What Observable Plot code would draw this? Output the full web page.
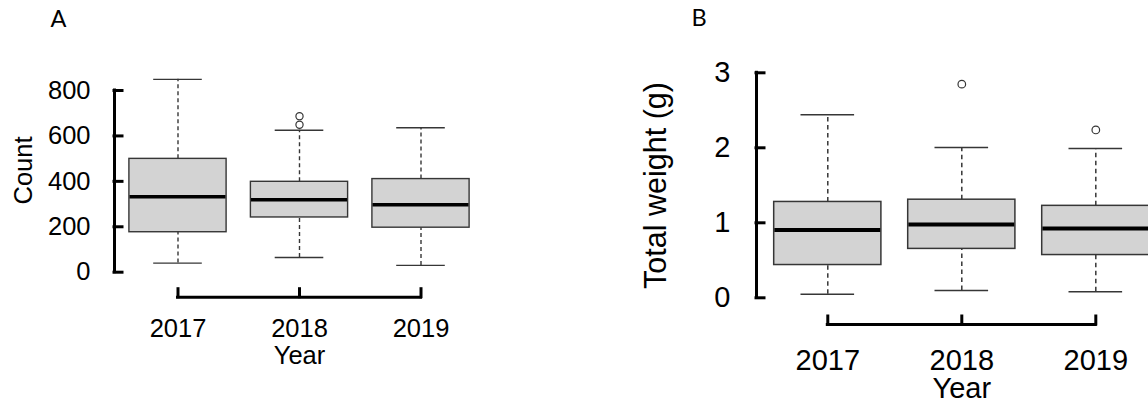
<!DOCTYPE html>
<html>
<head>
<meta charset="utf-8">
<script src="https://cdn.jsdelivr.net/npm/d3@7"></script>
<script src="https://cdn.jsdelivr.net/npm/@observablehq/plot@0.6"></script>
<style>
  html, body { margin: 0; padding: 0; background: #fff; }
  #figure { position: relative; width: 1148px; height: 408px; overflow: hidden; background: #fff; }
  #figure > div { position: absolute; top: 0; }
  #panel-a { left: 0; width: 574px; }
  #panel-b { left: 574px; width: 600px; }
</style>
</head>
<body>
<div id="figure"><div id="panel-a"></div><div id="panel-b"></div></div>
<script>
// Sampling years (categories on the x axis)
const years = [2017, 2018, 2019];

// Panel A — count per sample: five-number summaries and outliers
const countLow = [40, 65, 30];
const countQ1 = [176, 241, 196];
const countMedian = [332, 319, 297];
const countQ3 = [499, 398, 410];
const countHigh = [849, 625, 636];
const countOutlierYears = [2018, 2018];
const countOutlierValues = [649, 687];
const countTicks = [0, 200, 400, 600, 800];

// Panel B — total weight (g): five-number summaries and outliers
const weightLow = [0.048, 0.099, 0.082];
const weightQ1 = [0.437, 0.652, 0.570];
const weightMedian = [0.905, 0.976, 0.923];
const weightQ3 = [1.278, 1.308, 1.226];
const weightHigh = [2.442, 2.005, 1.990];
const weightOutlierYears = [2018, 2019];
const weightOutlierValues = [2.849, 2.238];
const weightTicks = [0, 1, 2, 3];

const FONT = "'Liberation Sans', Arial, Helvetica, sans-serif";
const BOX_FILL = "#d3d3d3";
const BOX_STROKE = "#363636";

function summaryRows(low, q1, median, q3, high) {
  return years.map((year, i) => ({year, low: low[i], q1: q1[i], median: median[i], q3: q3[i], high: high[i]}));
}
function outlierRows(ys, values) {
  return ys.map((year, i) => ({year, value: values[i]}));
}

// One boxplot panel in the base-R style: inward ticks, bracket axes, dashed whiskers
function boxPanel(o) {
  const rows = summaryRows(o.low, o.q1, o.median, o.q3, o.high);
  const points = outlierRows(o.outlierYears, o.outlierValues);
  const half = 0.4;   // half box width, in category units
  const cap = 0.2;    // half whisker-cap width
  const frameBottom = o.height - o.marginBottom;
  const xDomain = [years[0] - o.xPad, years[years.length - 1] + o.xPad];
  const axisStroke = 3;
  return Plot.plot({
    width: o.width,
    height: o.height,
    marginLeft: o.marginLeft,
    marginRight: o.marginRight,
    marginTop: o.marginTop,
    marginBottom: o.marginBottom,
    style: {fontFamily: FONT, fontSize: `${o.fontSize}px`, color: "#000", background: "transparent", maxWidth: "none", overflow: "visible"},
    x: {domain: xDomain},
    y: {domain: [o.ticks[0], o.ticks[o.ticks.length - 1]], range: o.yRange},
    marks: [
      // whiskers
      Plot.ruleX(rows, {x: "year", y1: "q3", y2: "high", stroke: BOX_STROKE, strokeWidth: o.thin, strokeDasharray: o.dash}),
      Plot.ruleX(rows, {x: "year", y1: "low", y2: "q1", stroke: BOX_STROKE, strokeWidth: o.thin, strokeDasharray: o.dash}),
      Plot.ruleY(rows, {x1: d => d.year - cap, x2: d => d.year + cap, y: "high", stroke: BOX_STROKE, strokeWidth: o.thin}),
      Plot.ruleY(rows, {x1: d => d.year - cap, x2: d => d.year + cap, y: "low", stroke: BOX_STROKE, strokeWidth: o.thin}),
      // interquartile boxes and medians
      Plot.rect(rows, {x1: d => d.year - half, x2: d => d.year + half, y1: "q1", y2: "q3", fill: BOX_FILL, stroke: BOX_STROKE, strokeWidth: o.thin}),
      Plot.ruleY(rows, {x1: d => d.year - half + 0.005, x2: d => d.year + half - 0.005, y: "median", stroke: "#000", strokeWidth: o.medianWidth}),
      // outliers
      Plot.dot(points, {x: "year", y: "value", r: o.dotR, stroke: BOX_STROKE, fill: "#fff", strokeWidth: 1.2}),
      // y axis: spine over the tick range, ticks pointing inward
      Plot.ruleX([xDomain[0]], {y1: () => o.ticks[0], y2: () => o.ticks[o.ticks.length - 1], stroke: "#000", strokeWidth: axisStroke, strokeLinecap: "square"}),
      Plot.axisY({ticks: o.ticks, tickFormat: d => `${d}`, tickSize: -o.tickLen, tickPadding: o.yTickPadding, strokeWidth: axisStroke, strokeLinecap: "square", fontSize: o.fontSize, label: null}),
      // x axis: bracket from first to last year
      Plot.ruleY([o.ticks[0]], {x1: () => years[0], x2: () => years[years.length - 1], dy: frameBottom - o.yRange[0], stroke: "#000", strokeWidth: axisStroke, strokeLinecap: "square"}),
      Plot.axisX({ticks: years, tickFormat: d => `${d}`, tickSize: -o.tickLen, tickPadding: o.xTickPadding, strokeWidth: axisStroke, strokeLinecap: "square", fontSize: o.fontSize, label: null}),
      // axis titles
      Plot.text([o.yLabel], {text: d => d, frameAnchor: "left", textAnchor: "middle", lineAnchor: "middle", rotate: -90, dx: o.yLabelDx, fontSize: o.labelFontSize}),
      Plot.text(["Year"], {text: d => d, frameAnchor: "bottom", textAnchor: "middle", lineAnchor: "top", dy: o.xLabelDy, fontSize: o.fontSize}),
      // panel letter
      Plot.text([o.panel], {text: d => d, frameAnchor: "top-left", textAnchor: "start", lineAnchor: "top", dx: o.panelDx, dy: o.panelDy, fontSize: 23.5, fontFamily: "Lato, 'Open Sans', sans-serif"})
    ]
  });
}

document.getElementById("panel-a").append(boxPanel({
  panel: "A", yLabel: "Count",
  low: countLow, q1: countQ1, median: countMedian, q3: countQ3, high: countHigh,
  outlierYears: countOutlierYears, outlierValues: countOutlierValues, ticks: countTicks,
  width: 574, height: 408, marginLeft: 114, marginRight: 90, marginTop: 43.3, marginBottom: 111.3,
  yRange: [271.7, 90], xPad: 0.5226,
  fontSize: 25.5, labelFontSize: 25.5, tickLen: 8, yTickPadding: 32, xTickPadding: 30,
  yLabelDx: -90.7, xLabelDy: 49, panelDx: -64, panelDy: -33,
  thin: 1.4, medianWidth: 3.6, dash: "4,3", dotR: 3.6
}));

document.getElementById("panel-b").append(boxPanel({
  panel: "B", yLabel: "Total weight (g)",
  low: weightLow, q1: weightQ1, median: weightMedian, q3: weightQ3, high: weightHigh,
  outlierYears: weightOutlierYears, outlierValues: weightOutlierValues, ticks: weightTicks,
  width: 600, height: 408, marginLeft: 182, marginRight: 7.4, marginTop: 46, marginBottom: 84,
  yRange: [297.3, 72.3], xPad: 0.532,
  fontSize: 29, labelFontSize: 30.5, tickLen: 8, yTickPadding: 34, xTickPadding: 32.7,
  yLabelDx: -100, xLabelDy: 53.3, panelDx: -65, panelDy: -37.5,
  thin: 1.5, medianWidth: 4, dash: "4.5,3.5", dotR: 3.8
}));
</script>
</body>
</html>
